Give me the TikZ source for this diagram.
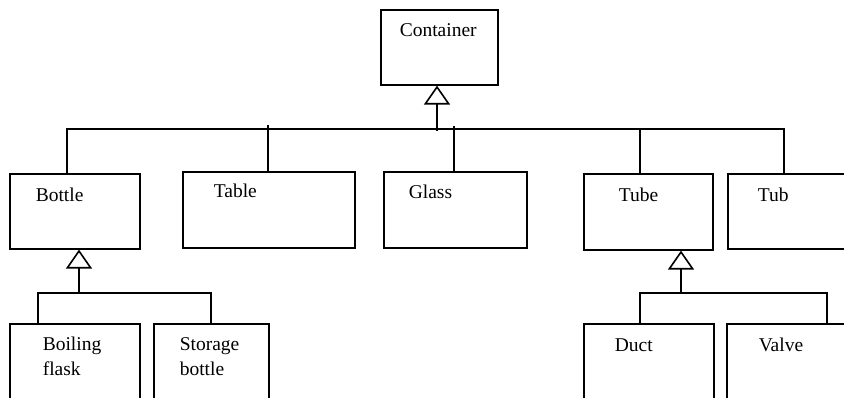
\documentclass[tikz,border=0pt]{standalone}
\usepackage{fontspec}
\setmainfont{Liberation Serif}
\usetikzlibrary{arrows.meta}
\begin{document}
\begin{tikzpicture}[x=1pt,y=-1pt,
  line width=1.6pt,
  box/.style={draw, rectangle, inner sep=0pt, anchor=north west},
  lbl/.style={anchor=base west, inner sep=0pt, font=\fontsize{19.5}{25}\selectfont},
  isa/.style={-{Triangle[open,length=19pt,width=26pt,line width=1.6pt]}}]
\useasboundingbox (0,0) rectangle (844,398);
\clip (0,0) rectangle (844,398);

% classes
\node[box, minimum width=117pt, minimum height=75pt] (container) at (380,9) {};
\node[box, minimum width=130pt, minimum height=75pt] (bottle) at (9,173) {};
\node[box, minimum width=172pt, minimum height=76pt] (table) at (182,171) {};
\node[box, minimum width=143pt, minimum height=76pt] (glass) at (383,171) {};
\node[box, minimum width=129pt, minimum height=76pt] (tube) at (583,173) {};
\node[box, minimum width=140pt, minimum height=75pt] (tub) at (727,173) {};
\node[box, minimum width=130pt, minimum height=90pt] (boiling) at (9,323) {};
\node[box, minimum width=115pt, minimum height=90pt] (storage) at (153,323) {};
\node[box, minimum width=130pt, minimum height=90pt] (duct) at (583,323) {};
\node[box, minimum width=140pt, minimum height=90pt] (valve) at (726,323) {};

% class names (two-line names are anchored at the baseline of their last line)
\node[lbl] (tcontainer) at (399,37) {Container};
\node[lbl] (tbottle) at (35,202) {Bottle};
\node[lbl] (ttable) at (213,198) {Table};
\node[lbl] (tglass) at (408,199) {Glass};
\node[lbl] (ttube) at (618,202) {Tube};
\node[lbl] (ttub) at (757,202) {Tub};
\node[lbl, align=left] (tboiling) at (42,375) {Boiling\\flask};
\node[lbl, align=left] (tstorage) at (179,375) {Storage\\bottle};
\node[lbl] (tduct) at (614,351) {Duct};
\node[lbl] (tvalve) at (758,351) {Valve};

% top-level generalisation bus
\coordinate (jbottle) at (67,129);
\coordinate (jtable) at (268,125);
\coordinate (jstem) at (437,131);
\coordinate (jglass) at (454,126);
\coordinate (jtube) at (640,129);
\coordinate (jtub) at (784,129);
\draw (jbottle |- bottle.north) -- (jbottle) -- (jtub) -- (jtub |- tub.north);
\draw (jtable) -- (jtable |- table.north);
\draw (jglass) -- (jglass |- glass.north);
\draw (jtube) -- (jtube |- tube.north);
\draw[isa] (jstem) -- (jstem |- container.south);

% Bottle subclasses
\coordinate (bstem) at (79,293);
\coordinate (jboiling) at (38,293);
\coordinate (jstorage) at (211,293);
\draw (jboiling |- boiling.north) -- (jboiling) -- (jstorage) -- (jstorage |- storage.north);
\draw[isa] (bstem) -- (bstem |- bottle.south);

% Tube subclasses
\coordinate (tstem) at (681,293);
\coordinate (jduct) at (640,293);
\coordinate (jvalve) at (827,293);
\draw (jduct |- duct.north) -- (jduct) -- (jvalve) -- (jvalve |- valve.north);
\draw[isa] (tstem) -- (tstem |- tube.south);
\end{tikzpicture}
\end{document}
